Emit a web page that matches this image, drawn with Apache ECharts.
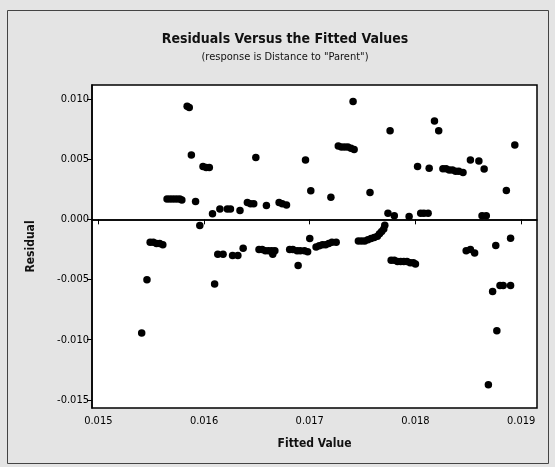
<!DOCTYPE html>
<html><head><meta charset="utf-8">
<script src="https://cdn.jsdelivr.net/npm/echarts@6/dist/echarts.min.js"></script>
<style>html,body{margin:0;padding:0;background:#e4e4e4}#c{width:555px;height:467px}</style>
</head><body><div id="c"></div>
<script>
const titleText = 'Residuals Versus the Fitted Values';
const subtitleText = '(response is Distance to "Parent")';
const xName = 'Fitted Value';
const yName = 'Residual';
const xTicks = [0.015, 0.016, 0.017, 0.018, 0.019];
const yTicks = [-0.015, -0.010, -0.005, 0.000, 0.005, 0.010];

const fittedValues = [
  0.01541, 0.01546,
  0.01549, 0.01552, 0.01555, 0.01558, 0.01561,
  0.01565, 0.01568, 0.01571, 0.01574, 0.01577, 0.01579,
  0.01584, 0.01586, 0.01588, 0.01592, 0.01596,
  0.01599, 0.01602, 0.01605, 0.01608, 0.01610,
  0.01613, 0.01615, 0.01618, 0.01622, 0.01625,
  0.01627, 0.01632, 0.01634, 0.01637,
  0.01641, 0.01644, 0.01647, 0.01649,
  0.01652, 0.01655, 0.01658, 0.01659, 0.01661, 0.01664, 0.01665, 0.01667,
  0.01671, 0.01674, 0.01678,
  0.01681, 0.01684, 0.01688, 0.01689, 0.01691, 0.01695, 0.01696, 0.01698,
  0.01700, 0.01701,
  0.01706, 0.01709, 0.01712, 0.01715, 0.01718, 0.01720, 0.01721, 0.01725,
  0.01727, 0.01730, 0.01733, 0.01736, 0.01739, 0.01741, 0.01742,
  0.01746, 0.01749, 0.01752, 0.01755, 0.01757, 0.01758, 0.01761, 0.01764, 0.01766, 0.01768, 0.01770, 0.01771,
  0.01774, 0.01776,
  0.01777, 0.01780, 0.01780, 0.01783, 0.01786, 0.01789, 0.01792, 0.01794, 0.01795, 0.01798, 0.01800,
  0.01802, 0.01805, 0.01808, 0.01812, 0.01813,
  0.01818, 0.01822,
  0.01826, 0.01829, 0.01832, 0.01835, 0.01838, 0.01841, 0.01845,
  0.01848, 0.01852, 0.01852, 0.01856, 0.01860,
  0.01863, 0.01865, 0.01867, 0.01869,
  0.01873, 0.01876, 0.01877, 0.01880, 0.01883, 0.01886, 0.01890, 0.01890, 0.01894
];
const residuals = [
  -0.00944, -0.00502,
  -0.0019, -0.0019, -0.0020, -0.0020, -0.0021,
  0.0017, 0.0017, 0.0017, 0.0017, 0.0017, 0.0016,
  0.0094, 0.0093, 0.00535, 0.00148, -0.00051,
  0.0044, 0.0043, 0.0043, 0.00046, -0.00538,
  -0.0029, 0.00087, -0.0029, 0.00087, 0.00087,
  -0.0030, -0.0030, 0.00073, -0.0024,
  0.0014, 0.0013, 0.0013, 0.00513,
  -0.0025, -0.0025, -0.0026, 0.00115, -0.0026, -0.0026, -0.0029, -0.0026,
  0.0014, 0.0013, 0.0012,
  -0.0025, -0.0025, -0.0026, -0.00383, -0.0026, -0.0026, 0.00494, -0.0027,
  -0.0016, 0.00237,
  -0.0023, -0.0022, -0.0021, -0.0021, -0.0020, 0.00184, -0.0019, -0.0019,
  0.0061, 0.0060, 0.0060, 0.0060, 0.0059, 0.00978, 0.0058,
  -0.0018, -0.0018, -0.0018, -0.0017, 0.00223, -0.0016, -0.0015, -0.0014, -0.0012, -0.0010, -0.0008, -0.0005,
  0.00051, 0.00737,
  -0.0034, -0.0034, 0.00029, -0.0035, -0.0035, -0.0035, -0.0035, 0.00023, -0.0036, -0.0036, -0.0037,
  0.00438, 0.0005, 0.0005, 0.0005, 0.00425,
  0.00817, 0.00737,
  0.0042, 0.0042, 0.0041, 0.0041, 0.0040, 0.0040, 0.0039,
  -0.0026, -0.0025, 0.00494, -0.0028, 0.00485,
  0.0003, 0.00419, 0.0003, -0.01373,
  -0.0060, -0.00217, -0.00925, -0.0055, -0.0055, 0.00239, -0.0055, -0.00156, 0.00618
];

const points = fittedValues.map((x, i) => [x, residuals[i]]);
const FONT = '"DejaVu Sans Condensed", "DejaVu Sans", sans-serif';

const chart = echarts.init(document.getElementById('c'), null, {renderer: 'canvas'});
chart.setOption({
  backgroundColor: '#e4e4e4',
  animation: false,
  title: [
    {text: titleText, left: 280, top: 27, textAlign: 'center',
     textStyle: {fontFamily: FONT, fontSize: 14, fontWeight: 'bold', color: '#111'}},
    {text: subtitleText, left: 280, top: 47, textAlign: 'center',
     textStyle: {fontFamily: FONT, fontSize: 11, fontWeight: 'normal', color: '#111'}}
  ],
  graphic: [
    {type: 'rect', shape: {x: 7.5, y: 10.5, width: 541, height: 453},
     style: {fill: 'none', stroke: '#444', lineWidth: 1}, silent: true, z: -1}
  ],
  grid: {left: 92, right: 18, top: 85, bottom: 59, show: true,
         backgroundColor: '#ffffff', borderColor: '#000', borderWidth: 1.5},
  xAxis: {
    type: 'value', min: 0.01494, max: 0.01915,
    name: xName, nameLocation: 'middle', nameGap: 30,
    nameTextStyle: {fontFamily: FONT, fontSize: 12, fontWeight: 'bold', color: '#111'},
    axisLine: {show: true, lineStyle: {color: '#000', width: 1.5}},
    axisTick: {show: true, length: 5, customValues: xTicks, lineStyle: {color: '#000'}},
    axisLabel: {customValues: xTicks, margin: 8, formatter: v => v.toFixed(3),
                fontFamily: FONT, fontSize: 11, color: '#000'},
    splitLine: {show: false}
  },
  yAxis: {
    type: 'value', min: -0.01567, max: 0.01116,
    name: yName, nameLocation: 'middle', nameGap: 55, nameRotate: 90,
    nameTextStyle: {fontFamily: FONT, fontSize: 12, fontWeight: 'bold', color: '#111'},
    axisLine: {show: true, lineStyle: {color: '#000', width: 1.5}},
    axisTick: {show: true, length: 5, customValues: yTicks, lineStyle: {color: '#000'}},
    axisLabel: {customValues: yTicks, margin: 3, formatter: v => v.toFixed(3),
                fontFamily: FONT, fontSize: 11, color: '#000'},
    splitLine: {show: false}
  },
  series: [{
    type: 'scatter', data: points, symbol: 'circle', symbolSize: 7.5,
    itemStyle: {color: '#000', opacity: 1},
    markLine: {silent: true, symbol: 'none', label: {show: false},
               lineStyle: {color: '#000', width: 1.5, type: 'solid'},
               data: [{yAxis: 0}]}
  }]
});
</script>
</body></html>
